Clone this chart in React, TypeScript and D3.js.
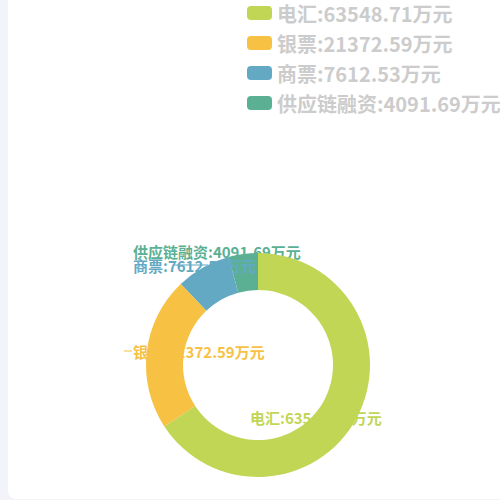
import React from "react";
import * as d3 from "d3";

const categories = ["电汇", "银票", "商票", "供应链融资"];
const values = [63548.71, 21372.59, 7612.53, 4091.69];
const unit = "万元";
const colors = ["#c1d654", "#f7c143", "#63a9c4", "#5bb094"];

const W = 500;
const H = 500;
const cx = 258;
const cy = 365;
const rInner = 75;
const rOuter = 112;

// label placement (layout only)
const labelPos = [
  { x: 250, y: 417, line: null as null | [number, number, number, number] },
  { x: 133, y: 351, line: [124, 351, 132, 351] as [number, number, number, number] },
  { x: 133, y: 265, line: [208, 265, 173, 265] as [number, number, number, number] },
  { x: 133, y: 251, line: null as null | [number, number, number, number] },
];

const font = "'Noto Sans CJK SC', 'Noto Sans', sans-serif";

export default function App() {
  const pie = d3
    .pie<number>()
    .sort(null)
    .value((d) => d)(values);
  const arc = d3
    .arc<d3.PieArcDatum<number>>()
    .innerRadius(rInner)
    .outerRadius(rOuter);

  const fmt = (v: number) => v.toFixed(2);
  const order = d3.range(values.length).reverse();

  const legendY = d3
    .scalePoint<number>()
    .domain(d3.range(categories.length))
    .range([13, 103]);

  return (
    <svg
      width={W}
      height={H}
      style={{ position: "fixed", left: 0, top: 0, display: "block" }}
    >
      <rect x={0} y={0} width={W} height={H} fill="#f3f4f9" />
      <rect x={8} y={-12} width={W + 20} height={H + 11} rx={8} fill="#ffffff" />

      {order.map((i) => {
        const lp = labelPos[i];
        return (
          <g key={i}>
            <text
              x={lp.x}
              y={lp.y}
              dominantBaseline="central"
              fontFamily={font}
              fontWeight="bold"
              fontSize={15}
              fill={colors[i]}
            >
              {`${categories[i]}:${fmt(values[i])}${unit}`}
            </text>
            {lp.line && (
              <line
                x1={lp.line[0]}
                y1={lp.line[1]}
                x2={lp.line[2]}
                y2={lp.line[3]}
                stroke={colors[i]}
                strokeOpacity={0.7}
                strokeWidth={1.5}
              />
            )}
            <path
              d={arc(pie[i]) || ""}
              transform={`translate(${cx},${cy})`}
              fill={colors[i]}
            />
          </g>
        );
      })}

      {categories.map((c, i) => {
        const y = legendY(i) as number;
        return (
          <g key={c}>
            <rect x={247} y={y - 7} width={25} height={14} rx={4} fill={colors[i]} />
            <text
              x={277}
              y={y}
              dominantBaseline="central"
              fontFamily={font}
              fontWeight="bold"
              fontSize={20}
              fill="#cccccc"
            >
              {`${c}:${fmt(values[i])}${unit}`}
            </text>
          </g>
        );
      })}
    </svg>
  );
}
